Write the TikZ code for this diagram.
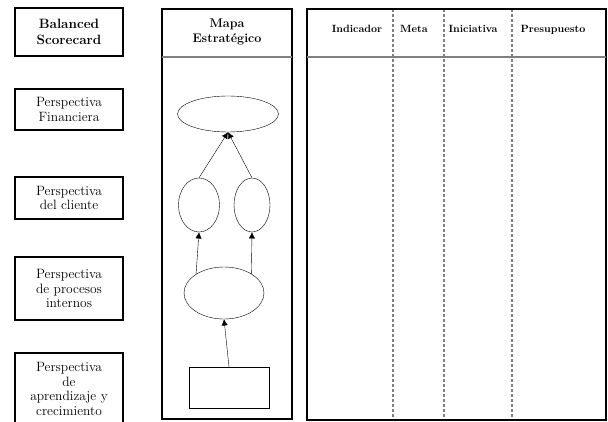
\documentclass[tikz,border=0pt]{standalone}
\usepackage{tikz}
\usetikzlibrary{positioning,arrows.meta,shapes.geometric}

\begin{document}
\begin{tikzpicture}[
  x=1pt,y=-1pt,
  persp/.style={draw,line width=1.6pt,minimum width=108pt,inner sep=0pt,align=center,font=\fontsize{13.5}{14.5}\selectfont},
  obj/.style={draw,ellipse,thin,inner sep=0pt},
  arr/.style={-{Latex[length=2.2mm,width=2.2mm]},thin},
  frame/.style={line width=1.6pt},
  hd/.style={align=center,font=\fontsize{12.5}{15}\selectfont\bfseries},
  col/.style={text height=7pt,text depth=2pt,font=\fontsize{10.5}{12}\selectfont\bfseries},
  sep/.style={draw=gray,line width=1.2pt},
  cut/.style={draw=gray,line width=1.2pt,dash pattern=on 3pt off 2pt}
]
\useasboundingbox (0,0) rectangle (608,422);

% perspectivas
\node[persp,minimum height=48pt,font=\fontsize{13.5}{15.5}\selectfont\bfseries] (bsc) at (69,32) {Balanced\\Scorecard};
\node[persp,minimum height=41pt] (fin) at (69,109.5) {Perspectiva\\Financiera};
\node[persp,minimum height=42pt] (cli) at (69,198) {Perspectiva\\del cliente};
\node[persp,minimum height=63pt] (pro) at (69,288.5) {Perspectiva\\de procesos\\internos};
\node[persp,minimum height=72pt] (apr) at (69,389) {Perspectiva\\de\\aprendizaje y\\crecimiento};

% mapa estrategico
\draw[frame] (162,9) rectangle (292,419);
\draw[sep] (162,57) -- (292,57);
\node[hd] (mapa) at (227,32) {Mapa\\Estratégico};

\node[obj,minimum width=101pt,minimum height=36pt] (of) at (228,114) {};
\node[obj,minimum width=41pt,minimum height=54pt] (oc1) at (199,205) {};
\node[obj,minimum width=36pt,minimum height=54pt] (oc2) at (252,205) {};
\node[obj,minimum width=80pt,minimum height=52pt] (op) at (224,293) {};
\node[draw,thin,minimum width=80pt,minimum height=41pt] (oa) at (229,387.5) {};

\draw[arr] (oc1.north) -- (of.south);
\draw[arr] (oc2.north) -- (of.south);
\draw[arr] (op.146) -- (oc1.south);
\draw[arr] (op.35) -- (oc2.south);
\draw[arr] (oa.north) -- (op.south);

% tabla
\foreach \x in {393,444,512}
  \draw[cut] (\x,9) -- (\x,420);
\draw[frame] (307,9) rectangle (606,420);
\draw[sep] (307,57) -- (606,57);
\node[col] (ind) at (357,30) {Indicador};
\node[col] (met) at (414,30) {Meta};
\node[col] (ini) at (473,30) {Iniciativa};
\node[col] (pre) at (553,30) {Presupuesto};
\end{tikzpicture}
\end{document}
